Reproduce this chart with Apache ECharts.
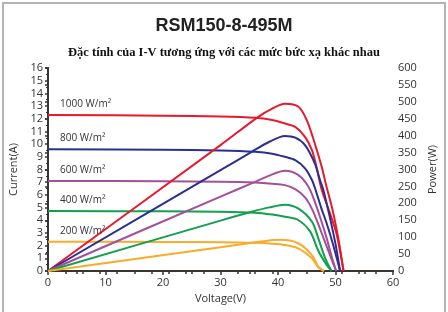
<!DOCTYPE html>
<html>
<head>
<meta charset="utf-8">
<script src="https://cdn.jsdelivr.net/npm/echarts@6/dist/echarts.min.js"></script>
<style>
  html, body { margin: 0; padding: 0; background: #fff; }
  #main { width: 448px; height: 312px; }
</style>
</head>
<body>
<div id="main"></div>
<script>
// I-V curves, [voltage, current]
var iv1000 = [[0,12.3],[20,12.24],[30,12.18],[36,12.08],[39,11.9],[41.2,11.63],[43,11.36],[44.7,10.57],[45.9,9.53],[46.7,8.2],[47.6,6.4],[49,4.6],[50.2,2.9],[51.4,0]];
var iv800  = [[0,9.6],[20,9.55],[30,9.5],[36,9.4],[39,9.25],[41.2,9.0],[43,8.74],[44.7,8.09],[45.9,7.17],[46.6,6.3],[47.5,5.0],[48.5,3.7],[49.5,2.2],[50.8,0]];
var iv600  = [[0,7.1],[20,7.07],[30,7.04],[36,6.97],[39,6.88],[41.2,6.77],[43,6.45],[44.7,5.8],[45.9,4.9],[47,3.7],[48,2.5],[49,1.3],[50.1,0]];
var iv400  = [[0,4.72],[20,4.7],[30,4.67],[36,4.6],[39,4.45],[41.2,4.28],[43.5,4.02],[45.6,3.1],[47,1.6],[48.3,0.6],[49.3,0]];
var iv200  = [[0,2.3],[20,2.29],[30,2.27],[36,2.22],[39,2.15],[41.2,2.05],[43.5,1.79],[45.9,1.0],[47,0.3],[48,0]];

// P-V curves, [voltage, power]
var pv1000 = [[0,0],[30,372],[36.5,455],[39,480],[41.2,494],[43.5,486],[45,446],[46.4,377],[47.6,308],[48.5,245],[49.5,180],[50.5,95],[51.4,0]];
var pv800  = [[0,0],[30,298],[35.4,352],[38.5,382],[41.2,399],[43,394],[44.7,372],[46.4,318],[47.3,269],[47.9,239],[49,160],[50,80],[50.8,0]];
var pv600  = [[0,0],[30,220],[35.4,259],[38.5,282],[41.2,296],[43.5,284],[45.3,249],[46.5,200],[47.5,150],[48.5,95],[49.3,45],[50.1,0]];
var pv400  = [[0,0],[30,149],[35.4,175],[38.5,188],[41.2,196],[43.5,185],[45.9,146],[47,97],[48.2,38],[49.3,0]];
var pv200  = [[0,0],[30,70],[34.9,82],[37.5,88],[40.3,92],[43.5,82],[45.9,47],[47,13],[48,0]];

var irradiance = ['1000 W/m²', '800 W/m²', '600 W/m²', '400 W/m²', '200 W/m²'];
var colors = ['#e8192c', '#2b2f8f', '#a24f9c', '#12a04c', '#f9ab2b'];
var ivData = [iv1000, iv800, iv600, iv400, iv200];
var pvData = [pv1000, pv800, pv600, pv400, pv200];

var axisColor = '#3a3431';
var txt = '#333';

var chart = echarts.init(document.getElementById('main'));

var series = [];
ivData.forEach(function (d, i) {
    series.push({
        type: 'line', xAxisIndex: 0, yAxisIndex: 0,
        data: d, smooth: 0.3, showSymbol: false,
        lineStyle: { color: colors[i], width: 2 },
        markPoint: {
            silent: true,
            symbolSize: 0,
            data: [{ coord: [2.1, d[0][1]] }],
            label: {
                show: true, formatter: irradiance[i], position: [0, -16],
                color: txt, fontSize: 10, fontFamily: 'Open Sans'
            }
        }
    });
});
pvData.forEach(function (d, i) {
    series.push({
        type: 'line', xAxisIndex: 0, yAxisIndex: 1,
        data: d, smooth: 0.3, showSymbol: false,
        lineStyle: { color: colors[i], width: 2 }
    });
});

var option = {
    animation: false,
    title: [
        { text: 'RSM150-8-495M', left: 'center', top: 12,
          textStyle: { fontFamily: 'Liberation Sans', fontWeight: 'bold', fontSize: 18, color: '#222' } },
        { text: 'Đặc tính của I-V tương ứng với các mức bức xạ khác nhau', left: 'center', top: 41,
          textStyle: { fontFamily: 'Liberation Serif', fontWeight: 'bold', fontSize: 12.5, color: '#111' } }
    ],
    graphic: [{
        type: 'rect', shape: { x: 3, y: 3, width: 442, height: 330 },
        style: { fill: 'none', stroke: '#b4b4b4', lineWidth: 2 }, silent: true
    }],
    grid: { left: 48, right: 55, top: 68, bottom: 41 },
    xAxis: [{
        type: 'value', min: 0, max: 60, interval: 10, position: 'bottom',
        name: 'Voltage(V)', nameLocation: 'middle', nameGap: 22,
        nameTextStyle: { color: txt, fontSize: 11, fontFamily: 'Open Sans' },
        axisLine: { lineStyle: { color: axisColor, width: 2 } },
        axisTick: { length: 4, lineStyle: { color: axisColor, width: 1.5 } },
        minorTick: { show: true, splitNumber: 2, length: 3, lineStyle: { color: axisColor, width: 1.5 } },
        axisLabel: { color: txt, fontSize: 11, fontFamily: 'Open Sans', margin: 6 },
        splitLine: { show: false }
    }, {
        type: 'value', min: 0, max: 60, interval: 3, position: 'top',
        axisLine: { lineStyle: { color: axisColor, width: 2 } },
        axisTick: { inside: true, length: 3, lineStyle: { color: axisColor, width: 1.5 } },
        axisLabel: { show: false },
        splitLine: { show: false }
    }],
    yAxis: [{
        type: 'value', min: 0, max: 16, interval: 1, position: 'left',
        name: 'Current(A)', nameLocation: 'middle', nameGap: 26,
        nameTextStyle: { color: txt, fontSize: 11, fontFamily: 'Open Sans' },
        axisLine: { show: true, lineStyle: { color: axisColor, width: 2 } },
        axisTick: { show: true, length: 3, lineStyle: { color: axisColor, width: 1.5 } },
        minorTick: { show: true, splitNumber: 2, length: 2, lineStyle: { color: axisColor, width: 1 } },
        axisLabel: { color: txt, fontSize: 11, fontFamily: 'Open Sans', margin: 5 },
        splitLine: { show: false }
    }, {
        type: 'value', min: 0, max: 600, interval: 50, position: 'right',
        name: 'Power(W)', nameLocation: 'middle', nameGap: 33,
        nameTextStyle: { color: txt, fontSize: 11, fontFamily: 'Open Sans' },
        axisLine: { show: true, lineStyle: { color: axisColor, width: 2 } },
        axisTick: { show: true, inside: true, length: 3, lineStyle: { color: axisColor, width: 1.5 } },
        axisLabel: { color: txt, fontSize: 11, fontFamily: 'Open Sans', margin: 5 },
        splitLine: { show: false }
    }],
    series: series
};

chart.setOption(option);
</script>
</body>
</html>
